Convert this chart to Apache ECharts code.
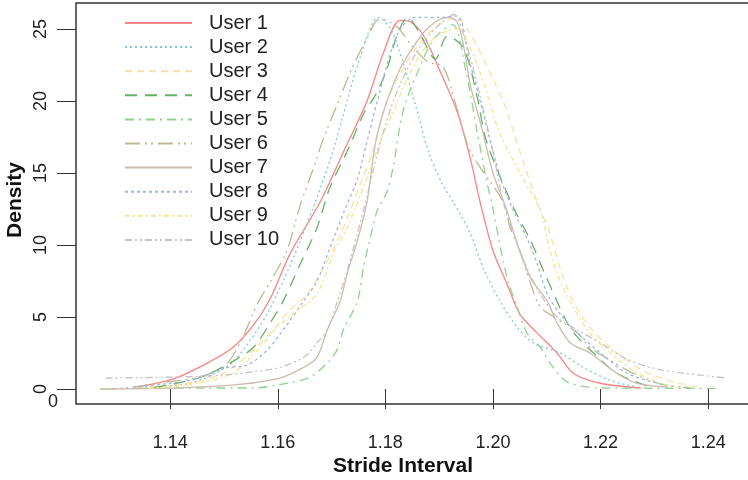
<!DOCTYPE html>
<html lang="en">
<head>
<meta charset="UTF-8" />
<title>Stride Interval density</title>
<style>
  html, body { margin: 0; padding: 0; background: #fff; }
  #chart { width: 748px; height: 480px; }
</style>
</head>
<body>
<div id="chart"></div>
<script src="https://cdn.jsdelivr.net/npm/echarts@6/dist/echarts.min.js"></script>
<script>
// density curves, [stride interval, density]
const user1 = [[1.1340,0.15],[1.1406,0.7],[1.1469,1.8],[1.1517,2.9],[1.1554,4.4],[1.1585,6.2],[1.1623,9.4],[1.1679,13.0],[1.1725,16.7],[1.1766,20.0],[1.1796,23.3],[1.1827,25.6],[1.1846,25.5],[1.1870,24.6],[1.1900,22.2],[1.1933,19.3],[1.1958,16.0],[1.1976,13.0],[1.2000,9.6],[1.2026,7.3],[1.2050,5.2],[1.2082,3.9],[1.2119,2.5],[1.2149,1.1],[1.2200,0.4],[1.2275,0.07]];
const user2 = [[1.1344,0.15],[1.1437,0.4],[1.1511,1.7],[1.1549,3.4],[1.1580,5.2],[1.1610,7.5],[1.1642,10.3],[1.1670,13.0],[1.1700,16.2],[1.1720,18.8],[1.1753,23.0],[1.1787,25.8],[1.1810,25.0],[1.1830,23.0],[1.1857,19.6],[1.1880,16.5],[1.1905,14.3],[1.1926,13.0],[1.1958,10.8],[1.1982,8.4],[1.2013,6.1],[1.2045,4.3],[1.2075,3.2],[1.2125,2.5],[1.2168,1.5],[1.2218,0.6],[1.2268,0.14]];
const user3 = [[1.1340,0.1],[1.1437,0.4],[1.1499,1.1],[1.1549,2.5],[1.1586,3.9],[1.1623,5.5],[1.1655,6.6],[1.1692,8.9],[1.1722,11.2],[1.1753,14.2],[1.1777,16.5],[1.1803,20.0],[1.1850,23.3],[1.1890,25.0],[1.1933,25.8],[1.1952,25.0],[1.1976,23.4],[1.2000,21.5],[1.2019,20.0],[1.2050,16.5],[1.2082,13.0],[1.2106,10.8],[1.2125,8.4],[1.2149,6.1],[1.2180,4.3],[1.2218,2.9],[1.2268,1.5],[1.2324,0.6],[1.2380,0.14]];
const user4 = [[1.1370,0.1],[1.1456,0.8],[1.1511,1.8],[1.1555,2.9],[1.1586,4.6],[1.1610,6.1],[1.1642,8.7],[1.1673,11.2],[1.1697,14.0],[1.1729,16.5],[1.1762,19.3],[1.1780,20.3],[1.1803,22.2],[1.1822,24.6],[1.1842,25.8],[1.1865,24.6],[1.1893,22.9],[1.1915,24.5],[1.1945,23.7],[1.1970,20.4],[1.1988,17.2],[1.2038,12.6],[1.2070,10.3],[1.2094,8.2],[1.2119,6.1],[1.2138,4.6],[1.2157,3.6],[1.2187,2.5],[1.2230,1.1],[1.2292,0.14]];
const user5 = [[1.1330,0.05],[1.1460,0.07],[1.1554,0.07],[1.1617,0.4],[1.1660,0.83],[1.1692,1.8],[1.1710,2.7],[1.1722,4.1],[1.1748,6.1],[1.1759,8.4],[1.1772,10.5],[1.1785,12.4],[1.1803,13.7],[1.1814,15.3],[1.1833,19.3],[1.1860,22.0],[1.1890,24.3],[1.1925,25.3],[1.1950,22.0],[1.1970,18.0],[1.1988,14.5],[1.2000,12.5],[1.2015,9.6],[1.2028,7.5],[1.2045,5.7],[1.2063,3.9],[1.2088,2.9],[1.2106,1.8],[1.2138,0.5],[1.2200,0.07],[1.2420,0.05]];
const user6 = [[1.1270,0.0],[1.1313,0.05],[1.1376,0.4],[1.1450,0.8],[1.1499,1.5],[1.1530,3.2],[1.1562,5.9],[1.1590,7.7],[1.1617,9.6],[1.1642,12.8],[1.1666,15.3],[1.1685,17.4],[1.1710,19.7],[1.1735,22.0],[1.1765,24.3],[1.1790,25.7],[1.1820,25.2],[1.1850,23.8],[1.1880,22.7],[1.1907,22.4],[1.1933,19.5],[1.1958,16.5],[1.2019,13.0],[1.2032,11.2],[1.2050,9.6],[1.2070,7.3],[1.2088,5.7],[1.2113,5.0],[1.2157,3.9],[1.2180,2.9],[1.2218,2.0],[1.2260,1.1],[1.2317,0.3],[1.2367,0.1]];
const user7 = [[1.1290,0.0],[1.1430,0.1],[1.1524,0.3],[1.1604,0.76],[1.1648,1.5],[1.1673,2.2],[1.1692,4.1],[1.1716,6.1],[1.1729,8.0],[1.1748,10.3],[1.1766,13.0],[1.1777,16.0],[1.1785,17.7],[1.1803,20.0],[1.1827,22.2],[1.1846,23.4],[1.1877,25.0],[1.1915,25.8],[1.1933,25.5],[1.1945,23.9],[1.1958,21.1],[1.1980,18.0],[1.2000,15.0],[1.2026,12.4],[1.2045,10.1],[1.2070,7.7],[1.2101,6.1],[1.2119,4.6],[1.2144,3.2],[1.2180,2.5],[1.2230,1.1],[1.2268,0.4],[1.2324,0.14]];
const user8 = [[1.1331,0.14],[1.1437,0.6],[1.1500,1.45],[1.1543,1.66],[1.1580,2.7],[1.1610,4.1],[1.1648,6.1],[1.1673,7.5],[1.1697,9.8],[1.1722,12.2],[1.1748,14.6],[1.1766,17.2],[1.1785,20.0],[1.1822,24.6],[1.1855,25.8],[1.1900,25.8],[1.1933,25.9],[1.1958,22.5],[1.1976,20.0],[1.2000,16.5],[1.2020,14.0],[1.2038,12.4],[1.2063,10.5],[1.2082,8.7],[1.2101,6.6],[1.2125,5.2],[1.2157,3.9],[1.2200,2.5],[1.2249,1.1],[1.2317,0.3],[1.2360,0.1]];
const user9 = [[1.1360,0.05],[1.1437,0.3],[1.1517,1.1],[1.1562,2.7],[1.1599,4.3],[1.1635,5.4],[1.1673,6.6],[1.1703,9.4],[1.1729,11.2],[1.1759,14.0],[1.1796,17.7],[1.1813,19.1],[1.1840,21.5],[1.1870,23.5],[1.1900,24.6],[1.1935,25.0],[1.1960,23.5],[1.1985,21.0],[1.2010,18.0],[1.2050,15.0],[1.2088,12.4],[1.2106,9.6],[1.2125,7.5],[1.2149,5.7],[1.2180,3.9],[1.2212,2.7],[1.2260,1.3],[1.2311,0.4],[1.2354,0.1]];
const user10 = [[1.1280,0.76],[1.1406,0.83],[1.1500,0.97],[1.1562,1.24],[1.1604,1.5],[1.1648,2.2],[1.1673,3.2],[1.1692,4.1],[1.1710,6.0],[1.1729,8.2],[1.1760,12.5],[1.1790,17.0],[1.1820,20.5],[1.1860,23.5],[1.1900,25.3],[1.1927,26.0],[1.1950,24.0],[1.1975,20.5],[1.2000,16.5],[1.2019,13.0],[1.2038,10.8],[1.2063,8.4],[1.2088,6.6],[1.2119,5.0],[1.2157,4.1],[1.2200,3.2],[1.2242,2.2],[1.2292,1.5],[1.2354,1.1],[1.2435,0.76]];

const names = ["User 1","User 2","User 3","User 4","User 5","User 6","User 7","User 8","User 9","User 10"];
const xTicks = [1.14, 1.16, 1.18, 1.20, 1.22, 1.24];
const yTicks = [0, 5, 10, 15, 20, 25];

const curves = [user1, user2, user3, user4, user5, user6, user7, user8, user9, user10];
const colors = ["#fb8383","#7fcccc","#fedfa4","#66b066","#8ed48e","#bdb996","#cdbbae","#9fb6d6","#efe88e","#c4c4c4"];
const dashes = ["solid",[2,3],[7,5],[12,8],[9,5,2,5],[15,5,2,4,2,5],"solid",[3,3],[5,3,2,3],[7,3,2,3,2,3]];

window.onload = function () {
  let chart = echarts.init(document.getElementById("chart"));
  let series = curves.map(function (d, i) {
    return {
      name: names[i],
      type: "line",
      data: d,
      smooth: 0.3,
      symbol: "none",
      lineStyle: { color: colors[i], width: 1.3, type: dashes[i] },
      itemStyle: { color: colors[i] },
    };
  });
  let font = "Liberation Sans, Arial, sans-serif";
  let option = {
    animation: false,
    textStyle: { fontFamily: font },
    grid: {
      left: 76, top: 3, width: 690, height: 401,
      outerBoundsMode: "none",
      show: true, borderColor: "#333", borderWidth: 1.5,
    },
    legend: {
      orient: "vertical",
      left: 119, top: 8,
      itemWidth: 67, itemHeight: 14, itemGap: 4.1,
      itemStyle: { opacity: 0 },
      data: names,
      textStyle: { fontSize: 20, color: "#222", lineHeight: 20, padding: [0, 0, 0, 12] },
    },
    xAxis: {
      type: "value",
      min: 1.1225, max: 1.25075,
      splitLine: { show: false },
      axisLine: { show: false },
      axisTick: { show: true, length: 20, customValues: xTicks, lineStyle: { color: "#333" } },
      axisLabel: {
        customValues: xTicks, margin: 30, fontSize: 18, color: "#222",
        formatter: function (v) { return v.toFixed(2); },
      },
    },
    yAxis: {
      type: "value",
      min: -1.04, max: 26.8,
      splitLine: { show: false },
      axisLine: { show: false },
      axisTick: { show: true, length: 19, customValues: yTicks, lineStyle: { color: "#333" } },
      axisLabel: { customValues: yTicks, rotate: 90, margin: 26, fontSize: 18, color: "#222" },
    },
    graphic: [
      { type: "text", left: 333, top: 456, style: { text: "Stride Interval", fontSize: 21, fontWeight: "bold", fill: "#111", fontFamily: font } },
      { type: "text", x: 15, y: 200, rotation: Math.PI / 2, style: { text: "Density", fontSize: 21, fontWeight: "bold", fill: "#111", fontFamily: font, align: "center", verticalAlign: "middle" } },
      { type: "text", x: 53, y: 402, style: { text: "0", fontSize: 18, fill: "#222", fontFamily: font, align: "center", verticalAlign: "middle" } },
    ],
    series: series,
  };
  chart.setOption(option);
};
</script>
</body>
</html>
